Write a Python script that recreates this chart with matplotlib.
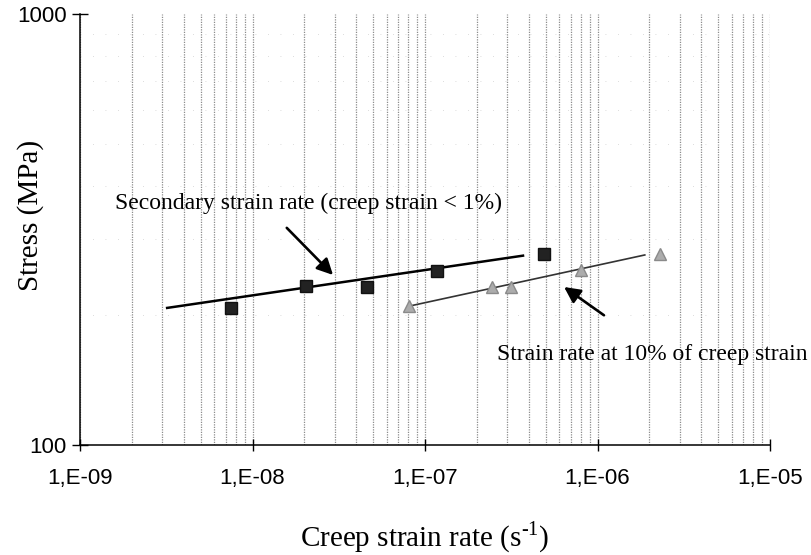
import numpy as np
import matplotlib
matplotlib.use('Agg')
import matplotlib.pyplot as plt
from matplotlib.ticker import LogLocator, NullFormatter

# secondary creep rate (creep strain < 1%)
sec_rate = [7.5e-9, 2.03e-8, 4.6e-8, 1.18e-7, 4.9e-7]
sec_stress = [208, 234, 232, 254, 277]
sec_fit_x = [3.2e-9, 3.7e-7]
sec_fit_y = [208, 275]

# strain rate at 10% creep strain
r10_rate = [8.1e-8, 2.44e-7, 3.15e-7, 8.0e-7, 2.3e-6]
r10_stress = [210, 233, 233, 255, 277]
r10_fit_x = [8.1e-8, 1.88e-6]
r10_fit_y = [210, 276]

xticks = [1e-9, 1e-8, 1e-7, 1e-6, 1e-5]
xticklabels = ['1,E-09', '1,E-08', '1,E-07', '1,E-06', '1,E-05']
yticks = [100, 1000]

plt.rcParams['mathtext.fontset'] = 'custom'
plt.rcParams['mathtext.rm'] = 'Liberation Serif'

fig = plt.figure(figsize=(8.11, 5.55), dpi=100)
ax = fig.add_axes([80/811, 1-445/555, 690/811, 431/555])
ax.set_xscale('log')
ax.set_yscale('log')
ax.set_xlim(1e-9, 1e-5)
ax.set_ylim(100, 1000)

# grille : traits pointillés verticaux sur chaque subdivision
ax.xaxis.set_minor_locator(LogLocator(base=10, subs=np.arange(2, 10)))
ax.xaxis.set_minor_formatter(NullFormatter())
ax.yaxis.set_minor_locator(LogLocator(base=10, subs=np.arange(2, 10)))
ax.yaxis.set_minor_formatter(NullFormatter())
ax.grid(True, which='both', axis='x', color='#8c8c8c', linestyle=(0, (1, 1)), linewidth=0.9)
ax.grid(True, which='minor', axis='y', color='#d0d0d0', linestyle=(0, (1, 14)), linewidth=0.6)
ax.tick_params(which='minor', length=0)

ax.set_xticks(xticks)
ax.set_xticklabels(xticklabels)
ax.set_yticks(yticks)
ax.set_yticklabels([str(v) for v in yticks])
ax.tick_params(axis='x', which='major', direction='inout', length=9, width=1, pad=12,
               labelsize=16, labelfontfamily='Liberation Sans')
ax.tick_params(axis='y', which='major', direction='inout', length=11, width=1, pad=4,
               labelsize=16, labelfontfamily='Liberation Sans')

for s in ['top', 'right']:
    ax.spines[s].set_visible(False)
for s in ['left', 'bottom']:
    ax.spines[s].set_linewidth(1.1)
    ax.spines[s].set_zorder(5)

# points + droites de tendance
ax.plot(sec_fit_x, sec_fit_y, color='black', linewidth=1.8, zorder=3)
ax.plot(r10_fit_x, r10_fit_y, color='#333333', linewidth=1.2, zorder=3)
ax.plot(sec_rate, sec_stress, linestyle='none', marker='s', markersize=8.5,
        markerfacecolor='#222222', markeredgecolor='#111111', zorder=4)
ax.plot(r10_rate, r10_stress, linestyle='none', marker='^', markersize=9,
        markerfacecolor='#acacac', markeredgecolor='#8a8a8a', zorder=4)

# annotations
arrow = dict(arrowstyle='-|>', color='black', lw=1.9, mutation_scale=24, shrinkA=0, shrinkB=0)
ax.text(1.6e-9, 364, 'Secondary strain rate (creep strain < 1%)', fontsize=17,
        family='Liberation Serif', ha='left', va='center')
ax.annotate('', xy=(2.93e-8, 248), xytext=(1.58e-8, 319), arrowprops=arrow)

ax.annotate('', xy=(6.4e-7, 232.6), xytext=(1.09e-6, 200), arrowprops=arrow)
ax.text(2.61e-7, 162, 'Strain rate at 10% of creep strain', fontsize=17,
        family='Liberation Serif', ha='left', va='center')

ax.set_xlabel(r'Creep strain rate (s$^{\text{-1}}$)', fontsize=21, family='Liberation Serif')
ax.xaxis.set_label_coords((425 - 80) / 690, (445 - 537) / 431)
ax.xaxis.label.set_va('center')
ax.set_ylabel('Stress (MPa)', fontsize=21, family='Liberation Serif')
ax.yaxis.set_label_coords((31 - 80) / 690, (445 - 215) / 431)
ax.yaxis.label.set_va('center')

fig.savefig('out.png', dpi=100)
